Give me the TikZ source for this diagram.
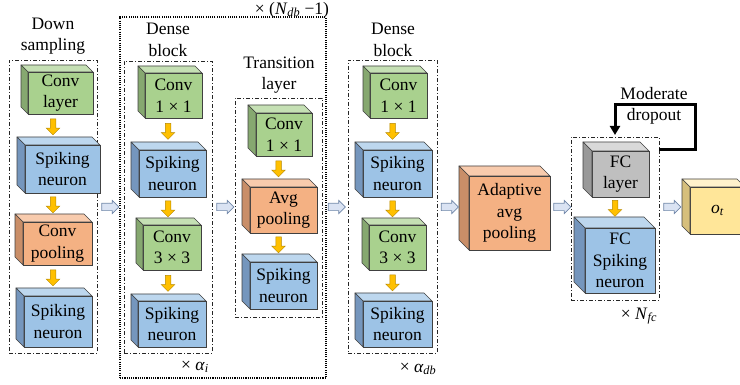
\documentclass[tikz,border=0pt]{standalone}
\usepackage{fontspec}
\setmainfont{Liberation Serif}
\usetikzlibrary{arrows.meta,shapes.arrows,calc}

% face colours: F = front, T = top, S = left side
\definecolor{grF}{HTML}{A9D18E}\definecolor{grT}{HTML}{C5E0B4}\definecolor{grS}{HTML}{86A870}
\definecolor{blF}{HTML}{9DC3E6}\definecolor{blT}{HTML}{BDD7EE}\definecolor{blS}{HTML}{7596BD}
\definecolor{orF}{HTML}{F4B183}\definecolor{orT}{HTML}{F8CBAD}\definecolor{orS}{HTML}{C98E68}
\definecolor{gyF}{HTML}{BFBFBF}\definecolor{gyT}{HTML}{D9D9D9}\definecolor{gyS}{HTML}{999999}
\definecolor{ywF}{HTML}{FFE699}\definecolor{ywT}{HTML}{FFF2CC}\definecolor{ywS}{HTML}{D6BF7C}
\definecolor{edgec}{HTML}{404040}
\definecolor{arrO}{HTML}{FFC000}\definecolor{arrOe}{HTML}{B58800}
\definecolor{arrB}{HTML}{DAE3F3}\definecolor{arrBe}{HTML}{6F86A8}

\newcommand{\boxfont}{\fontsize{17.5}{21.5}\selectfont}
% italic symbol with italic subscript
\newcommand{\vsub}[2]{\textit{#1}\textsubscript{\textit{#2}}}

\tikzset{
  face/.style={draw=edgec, line width=0.6pt, inner sep=0pt, outer sep=0pt, align=center, font=\boxfont},
  side/.style={draw=edgec, line width=0.6pt, line join=round},
  cont/.style={draw=black!85, line width=0.8pt, dash pattern=on 4pt off 2pt on 1pt off 2pt, inner sep=0pt, outer sep=0pt},
  outerbox/.style={draw=black, line width=1.3pt, dash pattern=on 1.1pt off 1.1pt, inner sep=0pt, outer sep=0pt},
  dnarrow/.style={single arrow, draw=arrOe, fill=arrO, line width=0.5pt, inner sep=2.5pt,
    minimum height=16pt, single arrow head extend=4pt, shape border rotate=270},
  rtarrow/.style={single arrow, draw=arrBe, fill=arrB, line width=0.7pt, inner sep=3.3pt,
    minimum height=17pt, single arrow head extend=3pt},
  lbl/.style={font=\boxfont, align=center, inner sep=0pt},
  dropline/.style={line width=3pt, line join=miter, -{Triangle[width=10pt,length=9pt]}},
}

% cuboid: name, front face x1 y1 x2 y2, depth, palette, text
\newcommand{\cuboid}[8]{%
  \node[face, fill=#7F, minimum width={(#4-#2)*1pt}, minimum height={(#5-#3)*1pt}]
    (#1) at ({(#2+#4)/2},{(#3+#5)/2}) {#8};
  \filldraw[side, fill=#7T] (#1.north west) -- ([xshift=-#6pt,yshift=#6pt]#1.north west)
    -- ([xshift=-#6pt,yshift=#6pt]#1.north east) -- (#1.north east) -- cycle;
  \filldraw[side, fill=#7S] (#1.north west) -- ([xshift=-#6pt,yshift=#6pt]#1.north west)
    -- ([xshift=-#6pt,yshift=#6pt]#1.south west) -- (#1.south west) -- cycle;
  \coordinate (#1-top) at ([yshift=#6pt]#1.north);
  \coordinate (#1-back) at ([xshift=-#6pt]#1.west);
}
% frame: name, corners, style
\newcommand{\frameat}[6]{%
  \node[#6, minimum width={(#4-#2)*1pt}, minimum height={(#5-#3)*1pt}]
    (#1) at ({(#2+#4)/2},{(#3+#5)/2}) {};
}
% downward arrow: name, frame, upper box, lower box
\newcommand{\dn}[4]{%
  \node[dnarrow] (#1) at ($(#2.center |- #3.south)!0.5!(#2.center |- #4-top)$) {};
}
% rightward arrow between two things: name, left, right
\newcommand{\rt}[3]{%
  \coordinate (#1m) at ($(#2)!0.5!(#3)$);
  \node[rtarrow] (#1) at (#1m |- ylev) {};
}

\begin{document}
\begin{tikzpicture}[x=1pt,y=-1pt]
\clip (0,0) rectangle (740,385);
\coordinate (ylev) at (0,207);

% frames
\frameat{fdown}{9}{60}{97}{353}{cont}
\frameat{fouter}{120}{17}{326}{378}{outerbox}
\frameat{fdense}{124}{61}{212}{353}{cont}
\frameat{ftrans}{235}{98}{322}{317}{cont}
\frameat{fdensedb}{348}{60}{437}{353}{cont}
\frameat{ffc}{571}{137}{659}{300}{cont}

% down sampling
\cuboid{a1}{28}{72}{93}{114}{7}{gr}{Conv\\layer}
\cuboid{a2}{25}{145}{100}{193}{8}{bl}{Spiking\\neuron}
\cuboid{a3}{23}{222}{92}{265}{8}{or}{Conv\\pooling}
\cuboid{a4}{24}{296}{92}{347}{8}{bl}{Spiking\\neuron}
\dn{da1}{fdown}{a1}{a2}
\dn{da2}{fdown}{a2}{a3}
\dn{da3}{fdown}{a3}{a4}

% dense block
\cuboid{b1}{145}{73}{202}{118}{7}{gr}{Conv\\1 × 1}
\cuboid{b2}{139}{150}{206}{197}{8}{bl}{Spiking\\neuron}
\cuboid{b3}{143}{225}{201}{270}{7}{gr}{Conv\\3 × 3}
\cuboid{b4}{138}{301}{206}{347}{7}{bl}{Spiking\\neuron}
\dn{db1}{fdense}{b1}{b2}
\dn{db2}{fdense}{b2}{b3}
\dn{db3}{fdense}{b3}{b4}

% transition layer
\cuboid{c1}{256}{113}{312}{156}{8}{gr}{Conv\\1 × 1}
\cuboid{c2}{250}{187}{317}{233}{8}{or}{Avg\\pooling}
\cuboid{c3}{250}{262}{317}{309}{8}{bl}{Spiking\\neuron}
\dn{dc1}{ftrans}{c1}{c2}
\dn{dc2}{ftrans}{c2}{c3}

% last dense block
\cuboid{d1}{370}{73}{427}{118}{7}{gr}{Conv\\1 × 1}
\cuboid{d2}{363}{150}{432}{197}{8}{bl}{Spiking\\neuron}
\cuboid{d3}{369}{225}{426}{270}{7}{gr}{Conv\\3 × 3}
\cuboid{d4}{363}{301}{432}{347}{8}{bl}{Spiking\\neuron}
\dn{dd1}{fdensedb}{d1}{d2}
\dn{dd2}{fdensedb}{d2}{d3}
\dn{dd3}{fdensedb}{d3}{d4}

% pooling, classifier, output
\cuboid{e}{469}{176}{550}{250}{10}{or}{Adaptive\\avg\\pooling}
\cuboid{f1}{592}{151}{649}{197}{9}{gy}{FC\\layer}
\cuboid{f2}{585}{228}{655}{293}{11}{bl}{FC\\Spiking\\neuron}
\dn{df1}{ffc}{f1}{f2}
\cuboid{g}{690}{187}{745}{234}{8}{yw}{\vsub{o}{t}}

% flow between stages
\rt{r1}{fdown.east}{fouter.west}
\rt{r2}{fdense.east}{ftrans.west}
\rt{r3}{ftrans.east}{fdensedb.west}
\rt{r4}{fdensedb.east}{e-back}
\rt{r5}{e.east}{ffc.west}
\rt{r6}{ffc.east}{g-back}

% dropout loop
\draw[dropline] ([yshift=-13pt]ffc.north east) -- ++(36,0) -- ++(0,-45)
  -| ([xshift=44pt,yshift=2pt]ffc.north west);

% captions
\node[lbl] (tdown) at (53,36) {Down\\sampling};
\node[lbl] (tdense) at (168,40) {Dense\\block};
\node[lbl] (ttrans) at (279,75) {Transition\\layer};
\node[lbl] (tdensedb) at (393,40) {Dense\\block};
\node[lbl] (tndb) at (292,10) {× (\vsub{N}{db} −1)};
\node[lbl] (tai) at (195,367) {× \vsub{α}{i}};
\node[lbl] (tadb) at (418,369) {× \vsub{α}{db}};
\node[lbl] (tnfc) at (639,316) {× \vsub{N}{fc}};
\node[lbl] (tdrop) at (654,106) {Moderate\\dropout};
\end{tikzpicture}
\end{document}
